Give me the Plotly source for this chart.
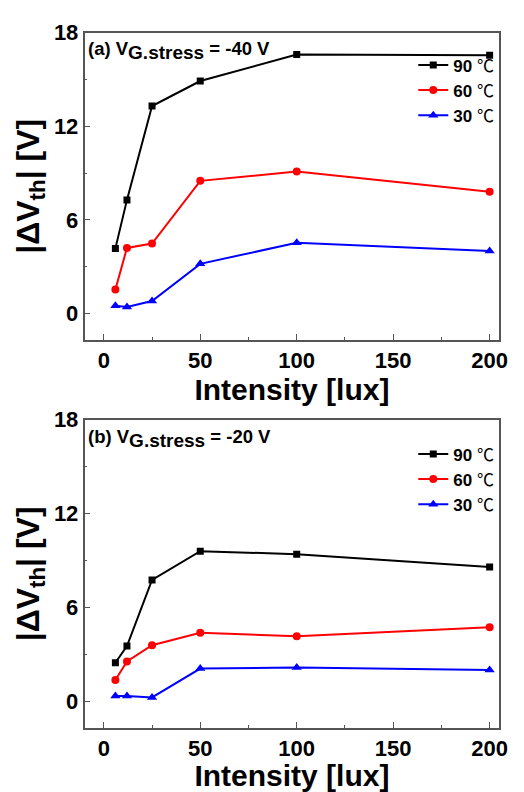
import plotly.graph_objects as go

intensity = [6, 12, 25, 50, 100, 200]
temps = ["90 <span style='font-family:Noto Sans CJK SC;font-weight:normal'>℃</span>",
         "60 <span style='font-family:Noto Sans CJK SC;font-weight:normal'>℃</span>",
         "30 <span style='font-family:Noto Sans CJK SC;font-weight:normal'>℃</span>"]
# panel (a) V_G,stress = -40 V
a_90 = [4.17, 7.28, 13.3, 14.9, 16.6, 16.55]
a_60 = [1.54, 4.2, 4.48, 8.5, 9.1, 7.8]
a_30 = [0.5, 0.42, 0.8, 3.18, 4.53, 4.0]
# panel (b) V_G,stress = -20 V
b_90 = [2.47, 3.54, 7.76, 9.6, 9.41, 8.59]
b_60 = [1.37, 2.55, 3.59, 4.39, 4.16, 4.73]
b_30 = [0.35, 0.35, 0.25, 2.1, 2.17, 2.0]

colors = ["#000000", "#ff0000", "#0000ff"]
symbols = ["square", "circle", "triangle-up"]
msizes = [7, 8, 9]

FONT = "Liberation Sans, Arial, sans-serif"
W, H = 524, 792

fig = go.Figure()
for series, name, c, s, ms in zip([a_90, a_60, a_30], temps, colors, symbols, msizes):
    fig.add_trace(go.Scatter(x=intensity, y=series, name=name, mode="lines+markers",
                             line=dict(color=c, width=2), marker=dict(symbol=s, size=ms, color=c),
                             xaxis="x", yaxis="y", legend="legend"))
for series, name, c, s, ms in zip([b_90, b_60, b_30], temps, colors, symbols, msizes):
    fig.add_trace(go.Scatter(x=intensity, y=series, name=name, mode="lines+markers",
                             line=dict(color=c, width=2), marker=dict(symbol=s, size=ms, color=c),
                             xaxis="x2", yaxis="y2", legend="legend2"))

xdom = [86 / W, 508 / W]
ydom_top = [1 - 333 / H, 1 - 21 / H]
ydom_bot = [1 - 727 / H, 1 - 414 / H]

def xax(domain, anchor):
    return dict(domain=domain, anchor=anchor, range=[-10, 205], tickvals=[0, 50, 100, 150, 200],
                ticks="inside", ticklen=6, tickwidth=1.2, tickcolor="#555",
                minor=dict(tickvals=[25, 75, 125, 175], ticks="inside", ticklen=3, tickcolor="#555"),
                showline=True, linecolor="#555", linewidth=1.5, mirror=True,
                showgrid=False, zeroline=False,
                tickfont=dict(family=FONT, size=22, color="black", weight="bold"),
                title=dict(text="Intensity [lux]", standoff=7,
                           font=dict(family=FONT, size=30, color="black", weight="bold")))

def yax(domain, anchor):
    return dict(domain=domain, anchor=anchor, range=[-1.7, 18], tickvals=[0, 6, 12, 18],
                ticks="inside", ticklen=6, tickwidth=1.2, tickcolor="#555",
                minor=dict(tickvals=[3, 9, 15], ticks="inside", ticklen=3, tickcolor="#555"),
                showline=True, linecolor="#555", linewidth=1.5, mirror=True,
                showgrid=False, zeroline=False,
                tickfont=dict(family=FONT, size=22, color="black", weight="bold"),
                title=dict(text="|ΔV<sub>th</sub>| [V]", standoff=5,
                           font=dict(family=FONT, size=32, color="black", weight="bold")))

legend_common = dict(xanchor="right", yanchor="top", bgcolor="rgba(0,0,0,0)",
                     font=dict(family=FONT, size=17, color="black", weight="bold"),
                     tracegroupgap=0, itemwidth=30)

def label(prefix, volt):
    return (f"{prefix} V<sub><span style='font-size:19px'>G.stress</span></sub> = {volt} V")

fig.update_layout(
    width=W, height=H, margin=dict(l=0, r=0, t=0, b=0),
    paper_bgcolor="white", plot_bgcolor="white",
    xaxis=xax(xdom, "y"), yaxis=yax(ydom_top, "x"),
    xaxis2=xax(xdom, "y2"), yaxis2=yax(ydom_bot, "x2"),
    legend=dict(x=508 / W, y=1 - 36 / H, **legend_common),
    legend2=dict(x=508 / W, y=1 - 431 / H, **legend_common),
    annotations=[
        dict(text=label("(a)", "-40"), x=88 / W, y=1 - 24 / H, xref="paper", yref="paper",
             xanchor="left", yanchor="top", showarrow=False,
             font=dict(family=FONT, size=18.5, color="black", weight="bold")),
        dict(text=label("(b)", "-20"), x=88 / W, y=1 - 418 / H, xref="paper", yref="paper",
             xanchor="left", yanchor="top", showarrow=False,
             font=dict(family=FONT, size=18.5, color="black", weight="bold")),
    ],
)

fig.write_html("out.html")
